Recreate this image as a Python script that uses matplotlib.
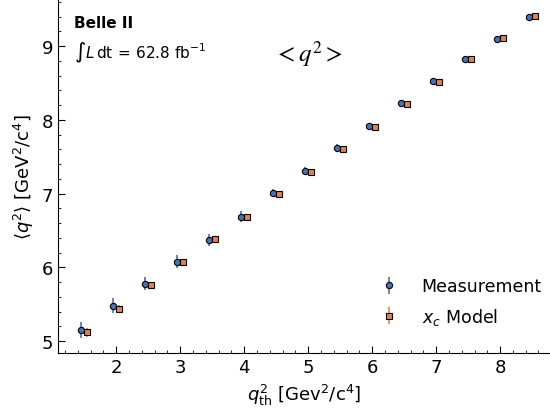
import matplotlib.pyplot as plt
from matplotlib.ticker import AutoMinorLocator

q2_th = [1.5, 2.0, 2.5, 3.0, 3.5, 4.0, 4.5, 5.0, 5.5, 6.0, 6.5, 7.0, 7.5, 8.0, 8.5]
meas = [5.15, 5.48, 5.78, 6.08, 6.37, 6.69, 7.01, 7.31, 7.62, 7.92, 8.23, 8.53, 8.82, 9.10, 9.39]
meas_err = [0.11, 0.10, 0.09, 0.09, 0.08, 0.07, 0.06, 0.05, 0.05, 0.04, 0.04, 0.04, 0.03, 0.03, 0.03]
model = [5.12, 5.44, 5.76, 6.07, 6.38, 6.69, 7.00, 7.30, 7.61, 7.91, 8.22, 8.52, 8.82, 9.11, 9.41]
model_err = [0.06, 0.05, 0.04, 0.03, 0.03, 0.02, 0.02, 0.02, 0.02, 0.02, 0.02, 0.02, 0.02, 0.02, 0.02]

fig = plt.figure(figsize=(5.5, 4.14), dpi=100)
ax = fig.add_axes([58 / 550, 60 / 414, 1 - 58 / 550, 354 / 414])

ax.errorbar([x - 0.05 for x in q2_th], meas, yerr=meas_err, fmt="o", ms=4.5, color="#4c72b0",
            mec="black", mew=0.8, elinewidth=1.2, label="Measurement")
ax.errorbar([x + 0.05 for x in q2_th], model, yerr=model_err, fmt="s", ms=4.5, color="#dd8452",
            mec="black", mew=0.8, elinewidth=1.2, label=r"$x_c$ Model")

ax.set_xlim(1.09, 8.78)
ax.set_ylim(4.84, 9.64)
ax.set_xticks([2, 3, 4, 5, 6, 7, 8])
ax.set_yticks([5, 6, 7, 8, 9])
ax.xaxis.set_minor_locator(AutoMinorLocator(5))
ax.yaxis.set_minor_locator(AutoMinorLocator(5))
ax.tick_params(which="both", direction="in", labelsize=13)
ax.tick_params(which="major", length=5)
ax.tick_params(which="minor", length=2.5)
ax.spines["top"].set_visible(False)
ax.spines["right"].set_visible(False)

ax.set_xlabel(r"$q^2_{\rm th}$ [Gev$^2$/c$^4$]", fontsize=13)
ax.set_ylabel(r"$\langle q^2 \rangle$ [GeV$^2$/c$^4$]", fontsize=13)

ax.text(0.033, 0.955, "Belle II", transform=ax.transAxes, fontsize=11, fontweight="bold", va="top")
ax.text(0.033, 0.885, r"$\int L\,\mathrm{dt}\,=\,62.8\ \mathrm{fb}^{-1}$", transform=ax.transAxes,
        fontsize=11, va="top")
ax.text(0.44, 0.89, r"$<q^2>$", transform=ax.transAxes, fontsize=18, family="serif",
        math_fontfamily="stix", va="top")

ax.legend(loc="lower right", bbox_to_anchor=(1.015, 0.03), frameon=False, fontsize=12.5,
          handletextpad=0.9, labelspacing=0.6)

fig.savefig("out.png")
